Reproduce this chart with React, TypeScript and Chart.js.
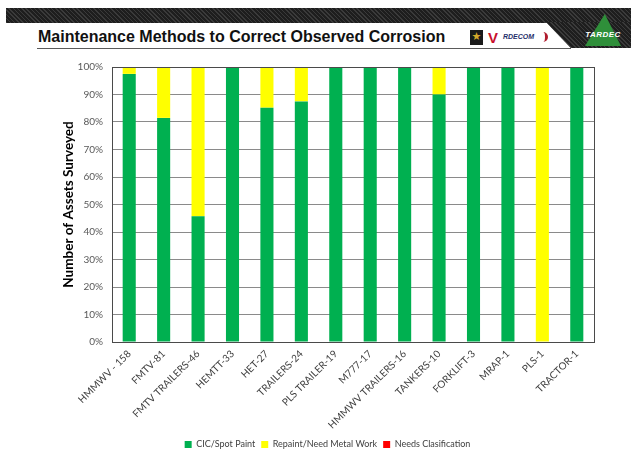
import React, { useEffect, useRef } from "react";
import { Chart, registerables } from "chart.js";

Chart.register(...registerables);

const categories = [
  "HMMWV - 158",
  "FMTV-81",
  "FMTV TRAILERS-46",
  "HEMTT-33",
  "HET-27",
  "TRAILERS-24",
  "PLS TRAILER-19",
  "M777-17",
  "HMMWV TRAILERS-16",
  "TANKERS-10",
  "FORKLIFT-3",
  "MRAP-1",
  "PLS-1",
  "TRACTOR-1",
];

const cicSpotPaint = [97.5, 81.5, 45.7, 100, 85.2, 87.5, 100, 100, 100, 90, 100, 100, 0, 100];
const repaintMetalWork = [2.5, 18.5, 54.3, 0, 14.8, 12.5, 0, 0, 0, 10, 0, 0, 100, 0];
const needsClassification = [0, 0, 0, 0, 0, 0, 0, 0, 0, 0, 0, 0, 0, 0];

const seriesNames = ["CIC/Spot Paint", "Repaint/Need Metal Work", "Needs Clasification"];
const yTickValues = [0, 10, 20, 30, 40, 50, 60, 70, 80, 90, 100];

const plotBorder = {
  id: "plotBorder",
  afterDatasetsDraw(chart: any) {
    const { ctx, chartArea } = chart;
    ctx.save();
    ctx.strokeStyle = "#4a4a4a";
    ctx.lineWidth = 1;
    ctx.strokeRect(
      Math.round(chartArea.left) + 0.5,
      Math.round(chartArea.top) + 0.5,
      Math.round(chartArea.right - chartArea.left),
      Math.round(chartArea.bottom - chartArea.top)
    );
    ctx.restore();
  },
};

export default function App() {
  const ref = useRef<HTMLCanvasElement | null>(null);

  useEffect(() => {
    if (!ref.current) return;
    const font = "Lato, 'Open Sans', sans-serif";
    const chart = new Chart(ref.current, {
      type: "bar",
      data: {
        labels: categories,
        datasets: [
          { label: seriesNames[0], data: cicSpotPaint, backgroundColor: "#00B050" },
          { label: seriesNames[1], data: repaintMetalWork, backgroundColor: "#FFFF00" },
          { label: seriesNames[2], data: needsClassification, backgroundColor: "#FF0000" },
        ],
      },
      options: {
        animation: false,
        responsive: false,
        maintainAspectRatio: false,
        layout: { padding: { left: 61, right: 37, top: 9, bottom: 6 } },
        datasets: { bar: { barPercentage: 0.38, categoryPercentage: 1 } },
        plugins: {
          legend: {
            position: "bottom",
            labels: {
              boxWidth: 7,
              boxHeight: 7,
              padding: 6,
              color: "#404040",
              font: { family: font, size: 9 },
            },
          },
          tooltip: { enabled: false },
        },
        scales: {
          x: {
            stacked: true,
            grid: { display: false, drawTicks: false },
            border: { color: "#4a4a4a" },
            ticks: {
              maxRotation: 45,
              minRotation: 45,
              autoSkip: false,
              padding: 6,
              color: "#404040",
              font: { family: font, size: 10 },
            },
            afterFit(scale: any) {
              scale.height = 92;
            },
          },
          y: {
            stacked: true,
            min: 0,
            max: 100,
            afterBuildTicks(scale: any) {
              scale.ticks = yTickValues.map((v) => ({ value: v }));
            },
            grid: { color: "#8a8a8a", drawTicks: false },
            border: { color: "#4a4a4a" },
            ticks: {
              padding: 9,
              color: "#595959",
              font: { family: font, size: 10 },
              callback: (v: any) => v + "%",
            },
            title: {
              display: true,
              text: "Number of Assets Surveyed",
              color: "#000000",
              padding: 0,
              font: { family: font, size: 13.5, weight: "bold" },
            },
            afterFit(scale: any) {
              scale.width = 51;
            },
          },
        },
      },
      plugins: [plotBorder],
    });
    return () => chart.destroy();
  }, []);

  const carbon =
    "repeating-linear-gradient(45deg, #3a3a3a 0px, #3a3a3a 1px, #1e1e1e 1px, #1e1e1e 3px), #262626";

  return (
    <div
      style={{
        position: "absolute",
        left: 0,
        top: 0,
        width: 631,
        height: 453,
        overflow: "hidden",
        background: "#ffffff",
      }}
    >
      {/* dark banner */}
      <div style={{ position: "absolute", left: 6, top: 8, width: 625, height: 15, background: carbon }} />
      <div
        style={{
          position: "absolute",
          left: 546,
          top: 22,
          width: 85,
          height: 26,
          background: carbon,
          clipPath: "polygon(0 0, 100% 0, 100% 100%, 25px 100%)",
        }}
      />
      {/* underline */}
      <div style={{ position: "absolute", left: 37, top: 48, width: 534, height: 1, background: "#5a5a5a" }} />
      <div
        style={{
          position: "absolute",
          left: 38,
          top: 28,
          fontFamily: "'Liberation Sans', Arial, sans-serif",
          fontWeight: "bold",
          fontSize: 16,
          color: "#111111",
          whiteSpace: "nowrap",
        }}
      >
        Maintenance Methods to Correct Observed Corrosion
      </div>
      {/* logos */}
      <div
        style={{
          position: "absolute",
          left: 470,
          top: 30,
          width: 13,
          height: 15,
          background: "#1a1a1a",
          color: "#d4a92a",
          fontSize: 11,
          lineHeight: "13px",
          textAlign: "center",
          fontFamily: "'DejaVu Sans', sans-serif",
        }}
      >
        ★
      </div>
      <div
        style={{
          position: "absolute",
          left: 488,
          top: 29,
          fontFamily: "'Liberation Sans', sans-serif",
          fontWeight: "bold",
          fontSize: 15,
          color: "#c8102e",
        }}
      >
        V
      </div>
      <div
        style={{
          position: "absolute",
          left: 503,
          top: 32,
          width: 42,
          height: 10,
          borderRadius: "0 10px 10px 0",
          borderRight: "3px solid #b01c2e",
          fontFamily: "'Liberation Sans', sans-serif",
          fontWeight: "bold",
          fontStyle: "italic",
          fontSize: 7,
          lineHeight: "10px",
          color: "#1f2f6b",
        }}
      >
        RDECOM
      </div>
      <div
        style={{
          position: "absolute",
          left: 585,
          top: 14,
          width: 36,
          height: 32,
          background: "#2f8f3a",
          clipPath: "polygon(55% 0, 100% 100%, 0 100%)",
        }}
      />
      <div
        style={{
          position: "absolute",
          left: 578,
          top: 30,
          width: 50,
          textAlign: "center",
          fontFamily: "'Liberation Sans', sans-serif",
          fontWeight: "bold",
          fontStyle: "italic",
          fontSize: 8,
          color: "#ffffff",
          letterSpacing: 0.5,
        }}
      >
        TARDEC
      </div>
      <canvas
        ref={ref}
        width={631}
        height={413}
        style={{ position: "absolute", left: 0, top: 52, width: 631, height: 413 }}
      />
    </div>
  );
}
